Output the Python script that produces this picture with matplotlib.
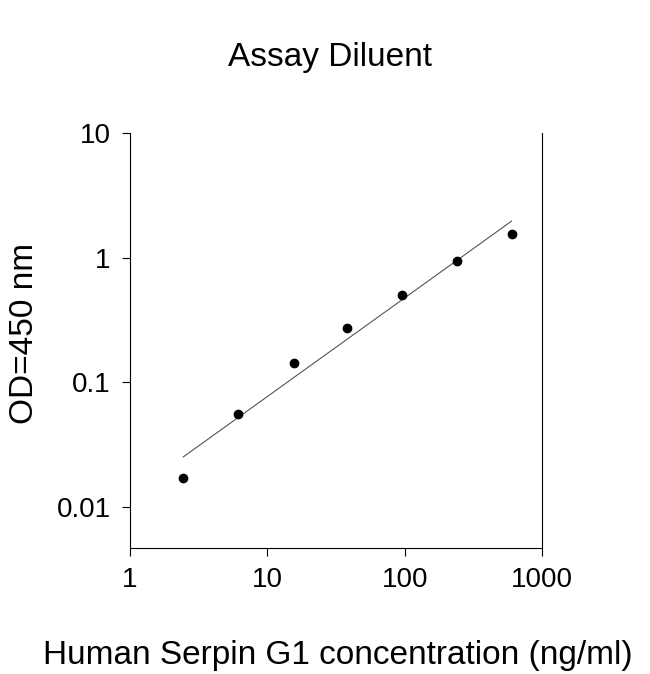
import matplotlib
matplotlib.use("Agg")
import matplotlib.pyplot as plt
import numpy as np

conc = [2.44, 6.1, 15.5, 37.7, 95, 240, 600]
od = [0.0171, 0.0557, 0.143, 0.272, 0.50, 0.94, 1.55]
fit_x = [2.44, 600]
fit_y = [0.0252, 1.96]

plt.rcParams['font.family'] = ['Liberation Sans', 'DejaVu Sans']
fig = plt.figure(figsize=(6.5, 6.74), dpi=100)
ax = fig.add_axes([0.2, 0.187, 0.634, 0.616])
ax.set_xscale('log'); ax.set_yscale('log')
ax.set_xlim(1, 1000); ax.set_ylim(0.0047, 10)
ax.plot(fit_x, fit_y, color='#555555', lw=0.8)
ax.plot(conc, od, 'o', color='black', ms=6)
ax.spines['top'].set_visible(False)
ax.spines['right'].set_bounds(0.0047, 10)
ax.set_xticks([1, 10, 100, 1000]); ax.set_xticklabels(['1', '10', '100', '1000'])
ax.set_yticks([0.01, 0.1, 1, 10]); ax.set_yticklabels(['0.01', '0.1', '1', '10'])
ax.minorticks_off()
ax.tick_params(direction='out', length=6, labelsize=20, pad=8)
fig.text(0.52, 0.028, 'Human Serpin G1 concentration (ng/ml)', ha='center', va='center', fontsize=24)
fig.text(0.038, 0.505, 'OD=450 nm', ha='center', va='center', rotation=90, fontsize=24)
fig.text(0.508, 0.915, 'Assay Diluent', ha='center', va='center', fontsize=24)
fig.savefig('out.png')
